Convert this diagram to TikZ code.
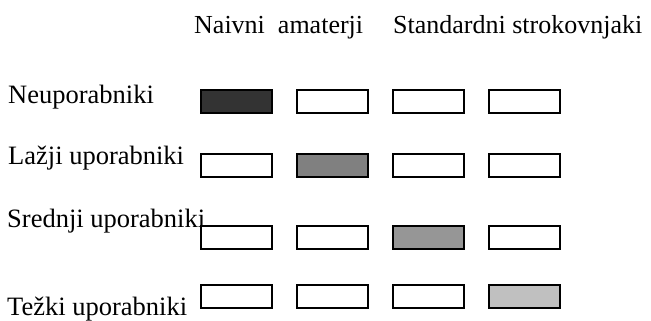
\documentclass[tikz,border=0pt]{standalone}
\usepackage{fontspec}
\setmainfont{Liberation Serif}
\usepackage{tikz}

% fill colours of the marked cells
\definecolor{shade1}{HTML}{333333}
\definecolor{shade2}{HTML}{808080}
\definecolor{shade3}{HTML}{969696}
\definecolor{shade4}{HTML}{C0C0C0}

\begin{document}
\begin{tikzpicture}[x=1pt, y=-1pt,
  cell/.style={draw, line width=2pt, minimum width=71pt, minimum height=23pt, inner sep=0pt},
  lbl/.style={anchor=base west, inner sep=0pt, font=\fontsize{26.5}{30}\selectfont},
  head/.style={lbl, font=\fontsize{26}{30}\selectfont}]
\useasboundingbox (0,0) rectangle (651,321);

% column headings
\node[head] (hnaive) at (194,34) {Naivni\ \ amaterji};
\node[head] (hstd) at (393,34) {Standardni strokovnjaki};

% row labels
\node[lbl] (rnon) at (8,103) {Neuporabniki};
\node[lbl] (rlight) at (8,164) {Lažji uporabniki};
\node[lbl] (rmid) at (7,227) {Srednji uporabniki};
\node[lbl] (rheavy) at (7,315) {Težki uporabniki};

% grid of cells, diagonal ones filled
\foreach \r/\yy in {1/101.5, 2/165.5, 3/237, 4/296.5}{
  \foreach \c/\xx in {1/236.5, 2/332.5, 3/428.5, 4/524.5}{
    \ifnum\r=\c \def\cellfill{shade\r}\else\def\cellfill{white}\fi
    \node[cell, fill=\cellfill] (b\r\c) at (\xx,\yy) {};
  }
}
\end{tikzpicture}
\end{document}
